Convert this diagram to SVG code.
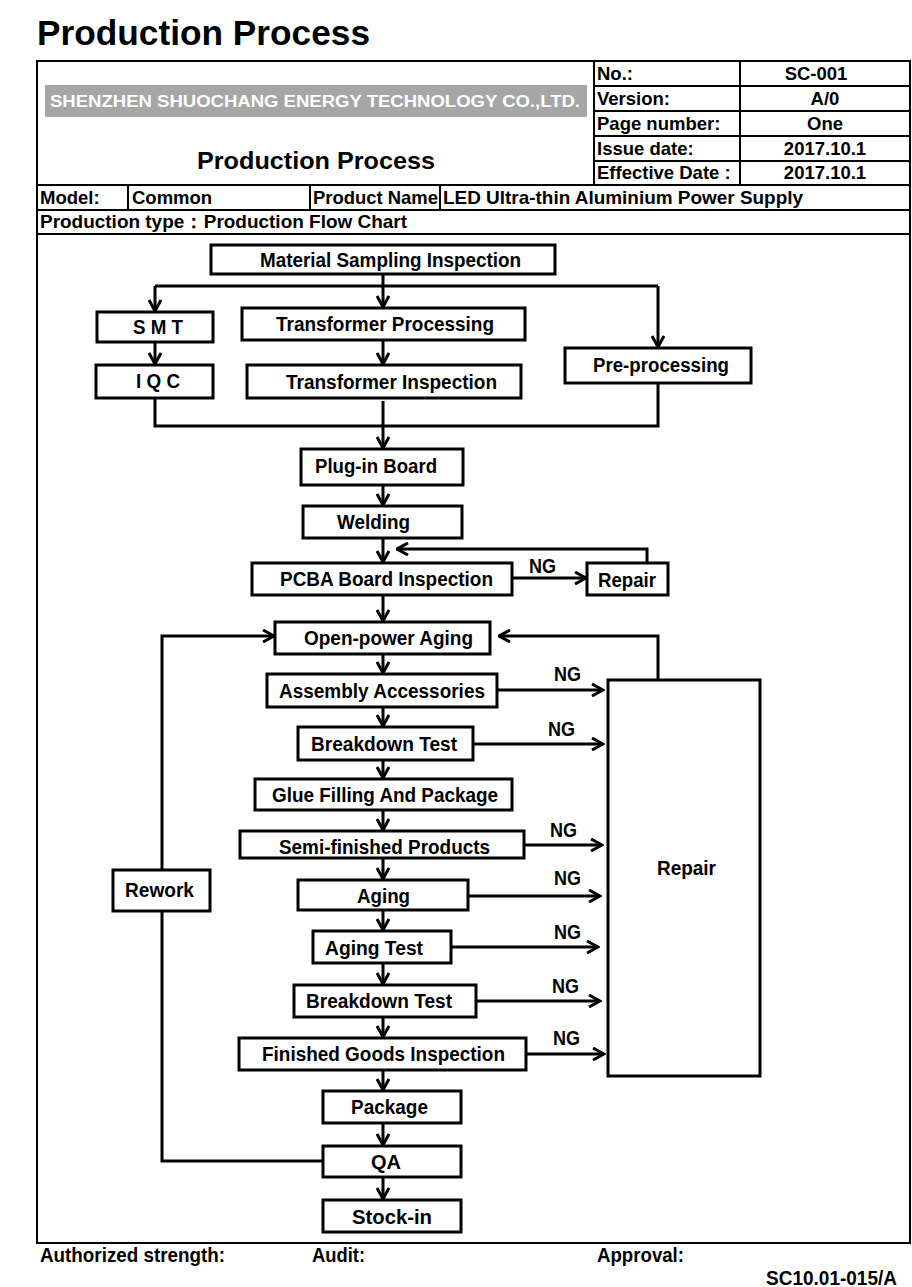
<svg xmlns="http://www.w3.org/2000/svg" width="912" height="1287" viewBox="0 0 912 1287">
<style>
text{font-family:"Liberation Sans",Arial,sans-serif;font-weight:bold;fill:#000}
.h{font-size:18.5px}
.f{font-size:20px}
.box{fill:#fff;stroke:#000;stroke-width:3}
.tl{fill:none;stroke:#000;stroke-width:2}
.c{fill:none;stroke:#000;stroke-width:3}
.a{fill:none;stroke:#000;stroke-width:3;marker-end:url(#ah)}
</style>
<defs>
<marker id="ah" markerUnits="userSpaceOnUse" viewBox="0 0 14 14" refX="12.5" refY="7" markerWidth="14" markerHeight="14" orient="auto">
<path d="M1.5,1 L12.5,7 L1.5,13" fill="none" stroke="#000" stroke-width="3"/>
</marker>
</defs>
<rect width="912" height="1287" fill="#fff"/>
<text x="37" y="45" style="font-size:35px" textLength="333" lengthAdjust="spacingAndGlyphs">Production Process</text>

<g id="header">
<rect x="37" y="61" width="873" height="1182" class="tl"/>
<rect x="45" y="85" width="542" height="32" fill="#a6a6a6"/>
<text x="50" y="107" style="font-size:16px;fill:#fff" textLength="530" lengthAdjust="spacingAndGlyphs">SHENZHEN SHUOCHANG ENERGY TECHNOLOGY CO.,LTD.</text>
<text x="197" y="169" style="font-size:24px" textLength="238" lengthAdjust="spacingAndGlyphs">Production Process</text>
<path class="tl" d="M594,61V185M740,61V185M594,86H910M594,111H910M594,136H910M594,161H910M37,185H910M37,210H910M37,234H910M128,185V210M310,185V210M440,185V210"/>
<text class="h" x="597" y="80">No.:</text>
<text class="h" x="597" y="105">Version:</text>
<text class="h" x="597" y="130">Page number:</text>
<text class="h" x="597" y="155">Issue date:</text>
<text class="h" x="597" y="179">Effective Date :</text>
<text class="h" x="816" y="80" text-anchor="middle">SC-001</text>
<text class="h" x="825" y="105" text-anchor="middle">A/0</text>
<text class="h" x="825" y="130" text-anchor="middle">One</text>
<text class="h" x="825" y="155" text-anchor="middle">2017.10.1</text>
<text class="h" x="825" y="179" text-anchor="middle">2017.10.1</text>
<text class="h" x="40" y="204">Model:</text>
<text class="h" x="132" y="204">Common</text>
<text class="h" x="313" y="204" textLength="125" lengthAdjust="spacingAndGlyphs">Product Name</text>
<text class="h" x="443" y="204" textLength="360" lengthAdjust="spacingAndGlyphs">LED Ultra-thin Aluminium Power Supply</text>
<text class="h" x="40" y="228" textLength="367" lengthAdjust="spacingAndGlyphs">Production type：Production Flow Chart</text>
</g>

<g id="connectors">
<path class="c" d="M155,286H658"/>
<path class="a" d="M155,286V311"/>
<path class="a" d="M383,274V307"/>
<path class="a" d="M658,286V347"/>
<path class="a" d="M155,342V364"/>
<path class="a" d="M383,340V364"/>
<path class="c" d="M155,398V426H658V383"/>
<path class="a" d="M383,401V448"/>
<path class="a" d="M383,485V505"/>
<path class="a" d="M383,538V562"/>
<path class="a" d="M647,563V549H397"/>
<path class="a" d="M512,578H586"/>
<path class="a" d="M383,595V621"/>
<path class="a" d="M383,654V673"/>
<path class="a" d="M383,707V726"/>
<path class="a" d="M383,760V778"/>
<path class="a" d="M383,810V830"/>
<path class="a" d="M383,858V879"/>
<path class="a" d="M383,910V930"/>
<path class="a" d="M383,963V984"/>
<path class="a" d="M383,1017V1037"/>
<path class="a" d="M383,1070V1090"/>
<path class="a" d="M383,1123V1145"/>
<path class="a" d="M383,1177V1199"/>
<path class="a" d="M323,1161H162V636H274"/>
<path class="a" d="M658,680V636H499"/>
<path class="a" d="M497,690H603"/>
<path class="a" d="M473,744H603"/>
<path class="a" d="M524,845H602"/>
<path class="a" d="M468,896H600"/>
<path class="a" d="M451,947H598"/>
<path class="a" d="M476,1001H600"/>
<path class="a" d="M526,1054H604"/>
<text class="f" x="529" y="573" textLength="27" lengthAdjust="spacingAndGlyphs">NG</text>
<text class="f" x="554" y="681" textLength="27" lengthAdjust="spacingAndGlyphs">NG</text>
<text class="f" x="548" y="736" textLength="27" lengthAdjust="spacingAndGlyphs">NG</text>
<text class="f" x="550" y="837" textLength="27" lengthAdjust="spacingAndGlyphs">NG</text>
<text class="f" x="554" y="885" textLength="27" lengthAdjust="spacingAndGlyphs">NG</text>
<text class="f" x="554" y="939" textLength="27" lengthAdjust="spacingAndGlyphs">NG</text>
<text class="f" x="552" y="993" textLength="27" lengthAdjust="spacingAndGlyphs">NG</text>
<text class="f" x="553" y="1045" textLength="27" lengthAdjust="spacingAndGlyphs">NG</text>
</g>

<g id="n-material"><rect class="box" x="211" y="245" width="344" height="29"/><text class="f" x="260" y="267" textLength="261" lengthAdjust="spacingAndGlyphs">Material Sampling Inspection</text></g>
<g id="n-smt"><rect class="box" x="97" y="312" width="116" height="30"/><text class="f" x="133" y="334" textLength="50" lengthAdjust="spacingAndGlyphs">S M T</text></g>
<g id="n-transp"><rect class="box" x="242" y="308" width="283" height="32"/><text class="f" x="276" y="331" textLength="218" lengthAdjust="spacingAndGlyphs">Transformer Processing</text></g>
<g id="n-iqc"><rect class="box" x="96" y="365" width="117" height="33"/><text class="f" x="136" y="388" textLength="44" lengthAdjust="spacingAndGlyphs">I Q C</text></g>
<g id="n-transi"><rect class="box" x="247" y="365" width="274" height="33"/><text class="f" x="286" y="389" textLength="211" lengthAdjust="spacingAndGlyphs">Transformer Inspection</text></g>
<g id="n-pre"><rect class="box" x="565" y="348" width="186" height="35"/><text class="f" x="593" y="372" textLength="136" lengthAdjust="spacingAndGlyphs">Pre-processing</text></g>
<g id="n-plugin"><rect class="box" x="301" y="449" width="162" height="36"/><text class="f" x="315" y="473" textLength="122" lengthAdjust="spacingAndGlyphs">Plug-in Board</text></g>
<g id="n-welding"><rect class="box" x="303" y="506" width="159" height="32"/><text class="f" x="337" y="529" textLength="73" lengthAdjust="spacingAndGlyphs">Welding</text></g>
<g id="n-pcba"><rect class="box" x="252" y="563" width="260" height="32"/><text class="f" x="280" y="586" textLength="213" lengthAdjust="spacingAndGlyphs">PCBA Board Inspection</text></g>
<g id="n-repair1"><rect class="box" x="587" y="563" width="81" height="32"/><text class="f" x="598" y="587" textLength="58" lengthAdjust="spacingAndGlyphs">Repair</text></g>
<g id="n-openpower"><rect class="box" x="275" y="622" width="215" height="32"/><text class="f" x="304" y="645" textLength="169" lengthAdjust="spacingAndGlyphs">Open-power Aging</text></g>
<g id="n-assembly"><rect class="box" x="267" y="674" width="230" height="33"/><text class="f" x="279" y="698" textLength="206" lengthAdjust="spacingAndGlyphs">Assembly Accessories</text></g>
<g id="n-breakdown1"><rect class="box" x="298" y="727" width="175" height="33"/><text class="f" x="311" y="751" textLength="146" lengthAdjust="spacingAndGlyphs">Breakdown Test</text></g>
<g id="n-glue"><rect class="box" x="255" y="779" width="257" height="31"/><text class="f" x="272" y="802" textLength="226" lengthAdjust="spacingAndGlyphs">Glue Filling And Package</text></g>
<g id="n-semi"><rect class="box" x="240" y="831" width="284" height="27"/><text class="f" x="279" y="854" textLength="211" lengthAdjust="spacingAndGlyphs">Semi-finished Products</text></g>
<g id="n-aging"><rect class="box" x="298" y="880" width="170" height="30"/><text class="f" x="357" y="903" textLength="53" lengthAdjust="spacingAndGlyphs">Aging</text></g>
<g id="n-agingtest"><rect class="box" x="313" y="931" width="138" height="32"/><text class="f" x="325" y="955" textLength="98" lengthAdjust="spacingAndGlyphs">Aging Test</text></g>
<g id="n-breakdown2"><rect class="box" x="294" y="985" width="182" height="32"/><text class="f" x="306" y="1008" textLength="146" lengthAdjust="spacingAndGlyphs">Breakdown Test</text></g>
<g id="n-finished"><rect class="box" x="239" y="1038" width="287" height="32"/><text class="f" x="262" y="1061" textLength="243" lengthAdjust="spacingAndGlyphs">Finished Goods Inspection</text></g>
<g id="n-package"><rect class="box" x="323" y="1091" width="138" height="32"/><text class="f" x="351" y="1114" textLength="77" lengthAdjust="spacingAndGlyphs">Package</text></g>
<g id="n-qa"><rect class="box" x="323" y="1146" width="138" height="31"/><text class="f" x="386" y="1169" text-anchor="middle">QA</text></g>
<g id="n-stockin"><rect class="box" x="323" y="1200" width="138" height="32"/><text class="f" x="352" y="1224" textLength="80" lengthAdjust="spacingAndGlyphs">Stock-in</text></g>
<g id="n-rework"><rect class="box" x="113" y="870" width="97" height="41"/><text class="f" x="125" y="897" textLength="69" lengthAdjust="spacingAndGlyphs">Rework</text></g>
<g id="n-repair2"><rect class="box" x="608" y="680" width="152" height="396"/><text class="f" x="657" y="875" textLength="59" lengthAdjust="spacingAndGlyphs">Repair</text></g>

<g id="footer">
<text class="f" x="40" y="1262" textLength="185" lengthAdjust="spacingAndGlyphs">Authorized strength:</text>
<text class="f" x="312" y="1262" textLength="53" lengthAdjust="spacingAndGlyphs">Audit:</text>
<text class="f" x="597" y="1262" textLength="87" lengthAdjust="spacingAndGlyphs">Approval:</text>
<text class="f" x="766" y="1285" textLength="131" lengthAdjust="spacingAndGlyphs">SC10.01-015/A</text>
</g>
</svg>
